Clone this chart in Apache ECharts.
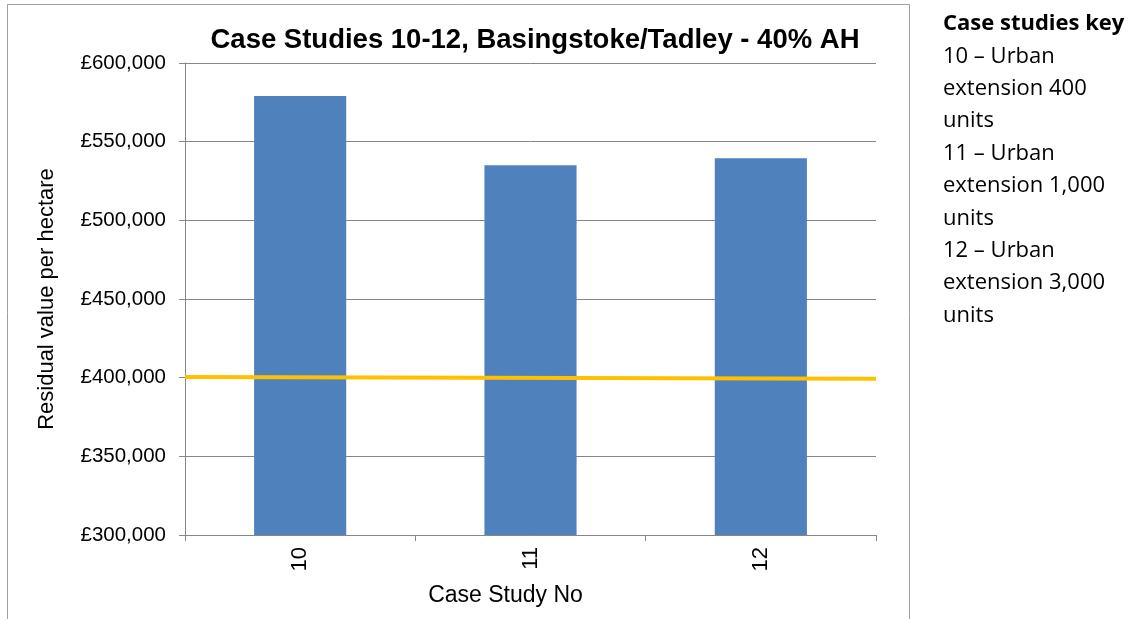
<!DOCTYPE html>
<html>
<head>
<meta charset="utf-8">
<script src="https://cdn.jsdelivr.net/npm/echarts@6/dist/echarts.min.js"></script>
<style>
  html, body { margin: 0; padding: 0; background: #fff; }
  #chart { width: 1130px; height: 619px; }
</style>
</head>
<body>
<div id="chart"></div>
<script>
// Case study categories and residual values (£ per hectare)
const caseStudies = ['10', '11', '12'];
const residualValues = [579000, 535000, 539500];
// Benchmark line: start and end values across the plot
const benchmarkValues = [400500, 399300];
// Axis range
const yMin = 300000, yMax = 600000, yStep = 50000;
// Key text beside the chart
const keyTitle = 'Case studies key';
const keyLines = [
  '10 \u2013 Urban', 'extension 400', 'units',
  '11 \u2013 Urban', 'extension 1,000', 'units',
  '12 \u2013 Urban', 'extension 3,000', 'units'
];

const chart = echarts.init(document.getElementById('chart'), null, { renderer: 'canvas' });
const axisGrey = '#868686';
const font = '"Liberation Sans", Arial, sans-serif';
const keyFont = '"Open Sans", Lato, sans-serif';
const keySize = 22;
const keyStep = 32.4;
const keyTop = 24;

const graphics = [
  { type: 'rect', shape: { x: 7.5, y: 4.5, width: 902, height: 640 },
    style: { fill: 'none', stroke: '#a0a0a0', lineWidth: 1 }, silent: true },
  { type: 'text', x: 943, y: keyTop,
    style: { text: keyTitle, font: 'bold ' + keySize + 'px ' + keyFont, fill: '#000',
             textVerticalAlign: 'middle' } }
];
keyLines.forEach((t, i) => {
  graphics.push({ type: 'text', x: 943, y: keyTop + (i + 1) * keyStep,
    style: { text: t, font: keySize + 'px ' + keyFont, fill: '#000',
             textVerticalAlign: 'middle' } });
});

chart.setOption({
  animation: false,
  title: {
    text: 'Case Studies 10-12, Basingstoke/Tadley - 40% AH',
    left: 530, top: 21, textAlign: 'center',
    textStyle: { fontFamily: font, fontWeight: 'bold', fontSize: 27.5, color: '#000' }
  },
  grid: { left: 185, right: 254, top: 63, bottom: 84, containLabel: false },
  xAxis: [
    {
      type: 'category', data: caseStudies,
      name: 'Case Study No', nameLocation: 'middle', nameGap: 49,
      nameTextStyle: { fontFamily: font, fontSize: 23, color: '#000', padding: [0, 50, 0, 0] },
      axisLine: { lineStyle: { color: axisGrey } },
      axisTick: { show: true, alignWithLabel: false, length: 6, lineStyle: { color: axisGrey } },
      axisLabel: { rotate: 90, margin: 12, fontFamily: font, fontSize: 22, color: '#000' }
    },
    { type: 'value', min: 0, max: 1, show: false }
  ],
  yAxis: {
    type: 'value', min: yMin, max: yMax, interval: yStep,
    name: 'Residual value per hectare', nameLocation: 'middle', nameGap: 127,
    nameTextStyle: { fontFamily: font, fontSize: 22, color: '#000' },
    axisLine: { show: true, lineStyle: { color: axisGrey } },
    axisTick: { show: true, length: 6, lineStyle: { color: axisGrey } },
    splitLine: { lineStyle: { color: axisGrey } },
    axisLabel: {
      margin: 19, fontFamily: font, fontSize: 20.5, color: '#000',
      formatter: v => '\u00a3' + v.toLocaleString('en-GB')
    }
  },
  series: [
    {
      type: 'bar', data: residualValues, barCategoryGap: '60%',
      itemStyle: { color: '#4F81BD' }, z: 2
    },
    {
      type: 'line', xAxisIndex: 1,
      data: [[0, benchmarkValues[0]], [1, benchmarkValues[1]]],
      symbol: 'none', lineStyle: { color: '#FFC000', width: 4 }, z: 5
    }
  ],
  graphic: graphics
});
</script>
</body>
</html>
